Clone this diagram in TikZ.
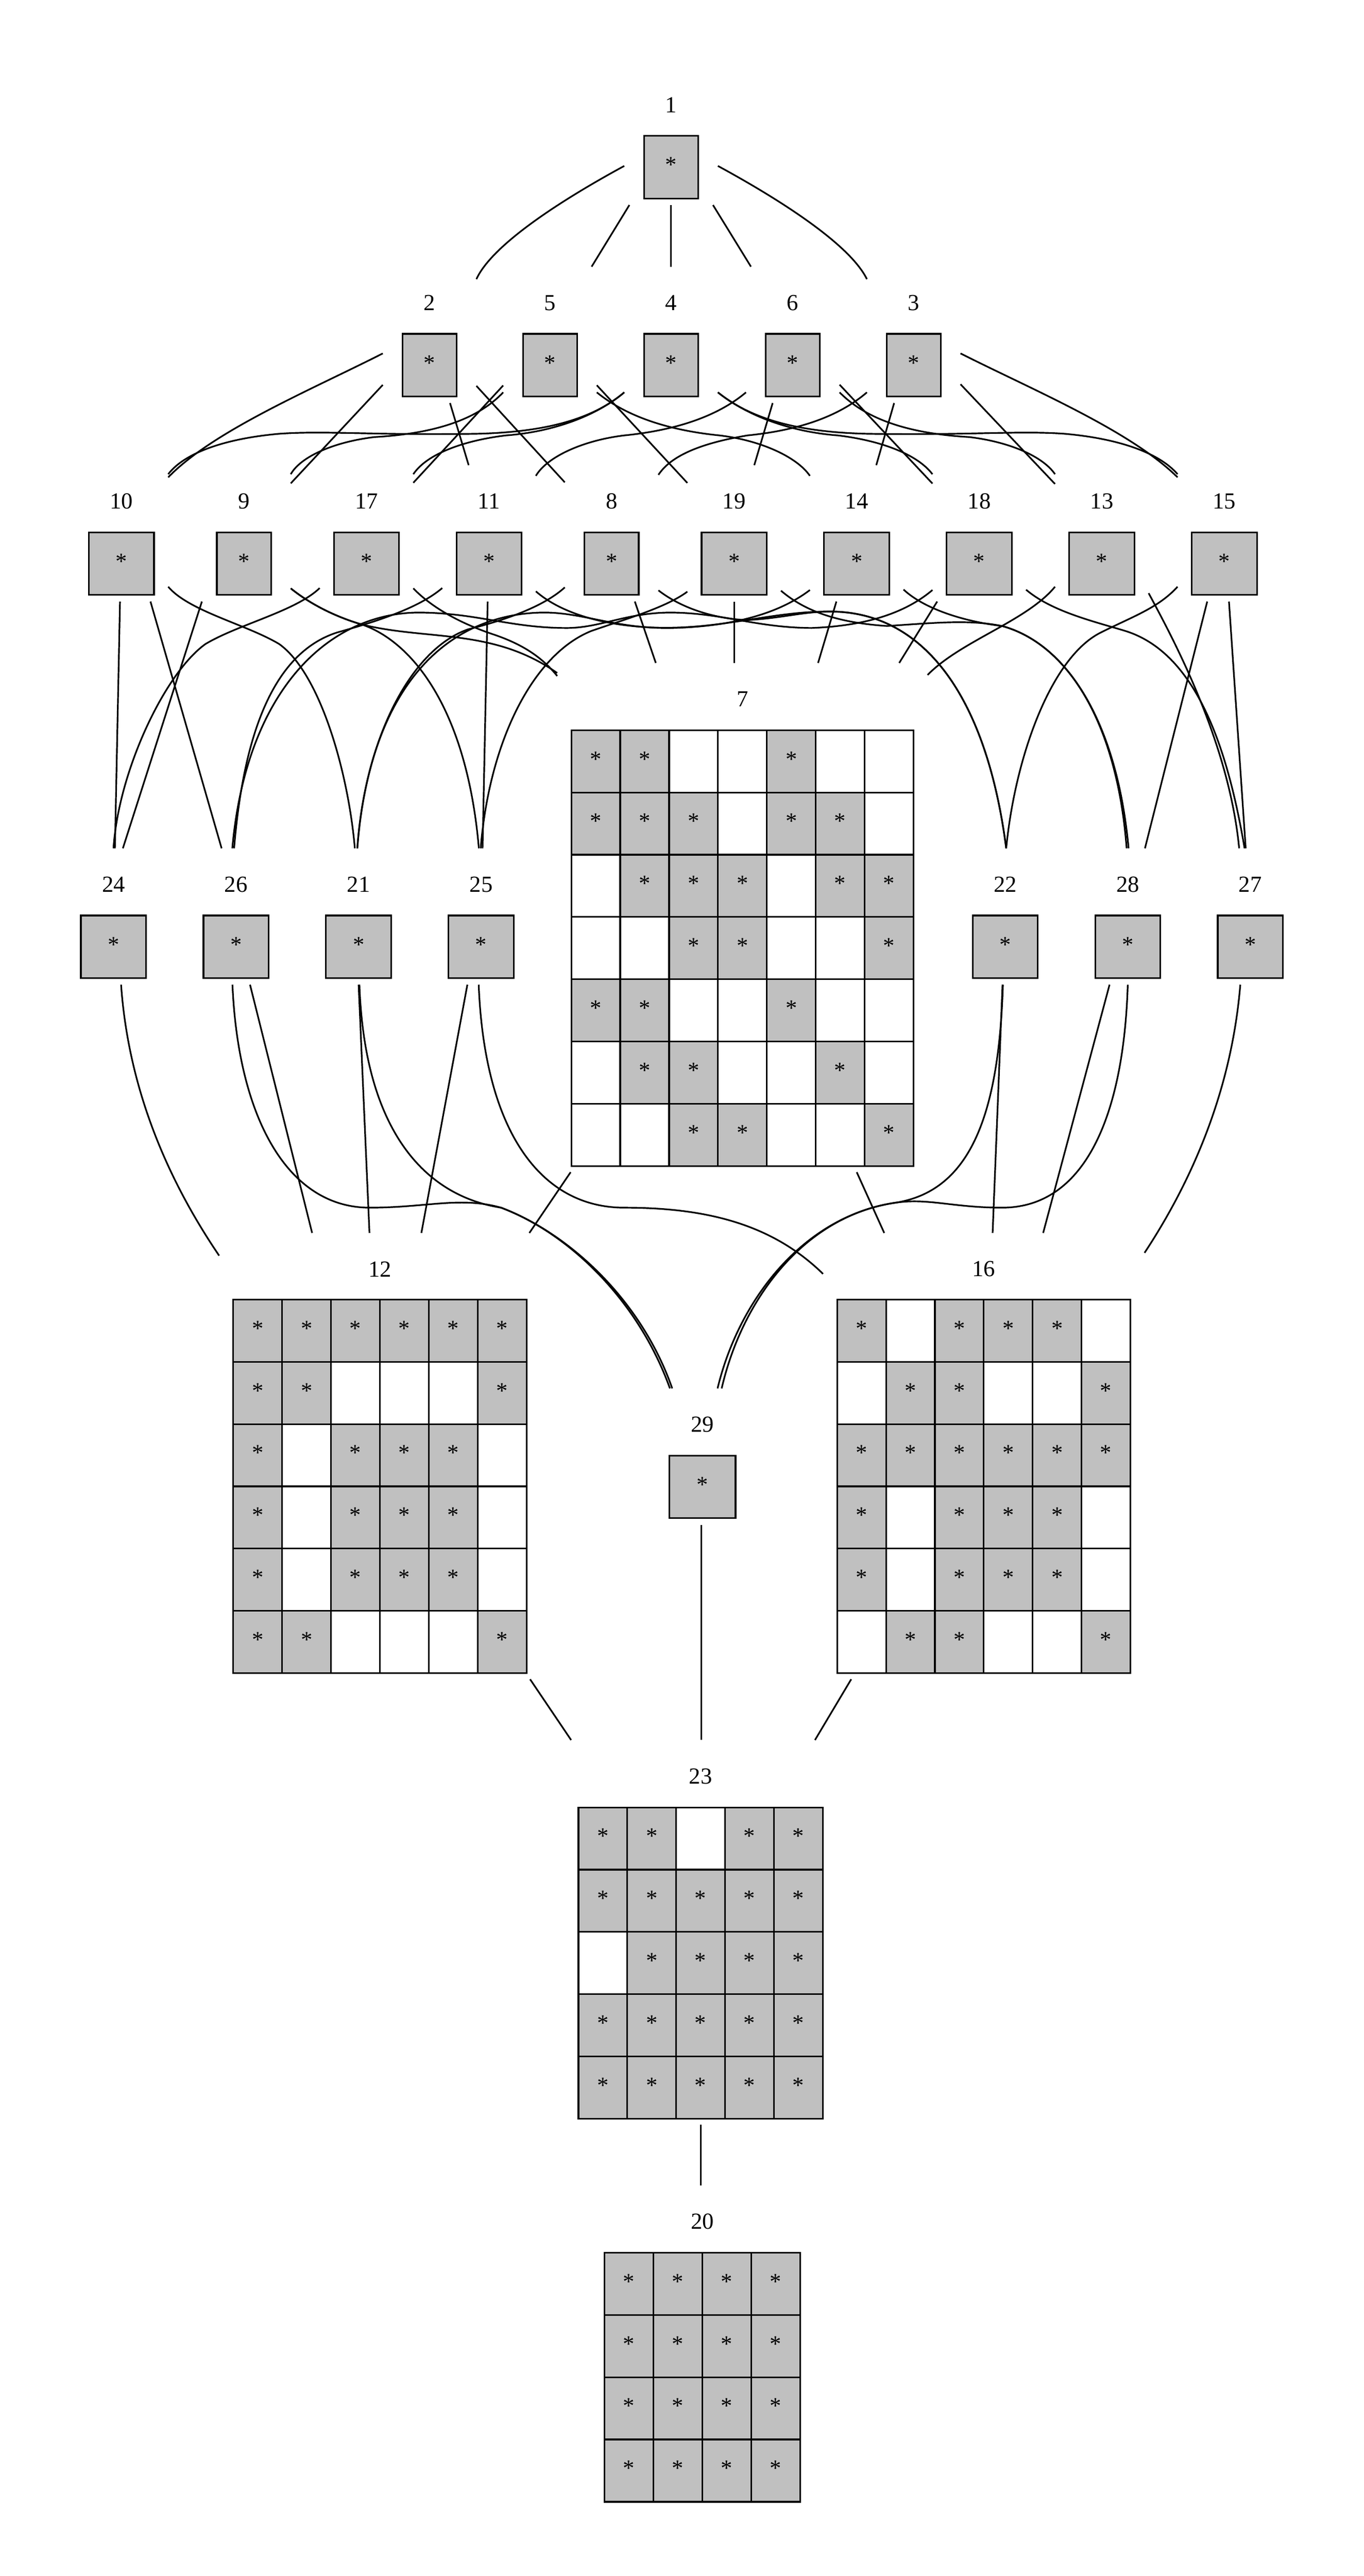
\documentclass[tikz,border=0pt]{standalone}
\usepackage{fontspec}
\setmainfont{Liberation Serif}
\definecolor{cellgray}{RGB}{192,192,192}
\tikzset{
  lbl/.style={inner sep=0pt, font=\fontsize{14pt}{16pt}\selectfont},
  sbox/.style={draw, line width=1pt, fill=cellgray, minimum height=38.1pt, inner sep=0pt,
    text height=9.5pt, text depth=3pt, font=\fontsize{14pt}{16pt}\selectfont},
  bb/.style={draw=none, inner sep=0pt, outer sep=0pt, minimum width=57pt, minimum height=83pt},
  cellon/.style={draw, line width=1pt, fill=cellgray, minimum width=29.75pt, minimum height=37.9pt,
    inner sep=0pt, text height=9.5pt, text depth=3pt, font=\fontsize{14pt}{16pt}\selectfont},
  celloff/.style={draw, line width=1pt, fill=white, minimum width=29.75pt, minimum height=37.9pt, inner sep=0pt},
  conn/.style={line width=1pt}
}
% single node: name, centre x, label y, box width
\newcommand{\gvnode}[4]{%
  \node[lbl] (l#1) at (#2,#3) {#1};
  \node[sbox, minimum width=#4pt] (s#1) at (#2,{#3+37.95}) {*};
  \node[bb] (b#1) at (#2,{#3+19.5}) {};
}
% matrix: name, left x, top y, rows
\newcommand{\gvmatrix}[4]{%
  \foreach \rowdata [count=\ri] in {#4} {
    \foreach \v [count=\ci] in \rowdata {
      \ifnum\v=1
        \node[cellon] (#1-\ri-\ci) at ({#2+(\ci-0.5)*29.75},{#3+(\ri-0.5)*37.9}) {*};
      \else
        \node[celloff] (#1-\ri-\ci) at ({#2+(\ci-0.5)*29.75},{#3+(\ri-0.5)*37.9}) {};
      \fi
    }
  }
}
\begin{document}
\begin{tikzpicture}[x=1pt,y=-1pt]
\fill[white] (0,0) rectangle (830,1567.8);
\useasboundingbox (0,0) rectangle (830,1567.8);

% ---------- nodes ----------
\gvnode{1}{408.5}{63.8}{33}
\gvnode{2}{261.5}{184.3}{33}
\gvnode{5}{334.8}{184.3}{33}
\gvnode{4}{408.5}{184.3}{33}
\gvnode{6}{482.6}{184.3}{33}
\gvnode{3}{556.2}{184.3}{33}

\gvnode{10}{73.9}{305.1}{39.7}
\gvnode{9}{148.5}{305.1}{33}
\gvnode{17}{223.1}{305.1}{39.7}
\gvnode{11}{297.7}{305.1}{39.7}
\gvnode{8}{372.3}{305.1}{33}
\gvnode{19}{446.9}{305.1}{39.7}
\gvnode{14}{521.5}{305.1}{39.7}
\gvnode{18}{596.1}{305.1}{39.7}
\gvnode{13}{670.7}{305.1}{39.7}
\gvnode{15}{745.3}{305.1}{39.7}

\gvnode{24}{69.1}{538.3}{39.7}
\gvnode{26}{143.7}{538.3}{39.7}
\gvnode{21}{218.3}{538.3}{39.7}
\gvnode{25}{292.9}{538.3}{39.7}
\gvnode{22}{611.9}{538.3}{39.7}
\gvnode{28}{686.5}{538.3}{39.7}
\gvnode{27}{761.1}{538.3}{39.7}

\gvnode{29}{427.6}{867}{40.3}

% matrix 7
\node[lbl] (l7) at (451.9,425.5) {7};
\gvmatrix{m7}{347.8}{444.4}{{1,1,0,0,1,0,0},{1,1,1,0,1,1,0},{0,1,1,1,0,1,1},{0,0,1,1,0,0,1},{1,1,0,0,1,0,0},{0,1,1,0,0,1,0},{0,0,1,1,0,0,1}}
\node[bb, minimum width=225.45pt, minimum height=309.9pt] (b7) at (451.9,558.45) {};

% matrix 12
\node[lbl] (l12) at (231.25,772.4) {12};
\gvmatrix{m12}{142}{790.9}{{1,1,1,1,1,1},{1,1,0,0,0,1},{1,0,1,1,1,0},{1,0,1,1,1,0},{1,0,1,1,1,0},{1,1,0,0,0,1}}
\node[bb, minimum width=195.7pt, minimum height=271.6pt] (b12) at (231.25,886.2) {};

% matrix 16
\node[lbl] (l16) at (598.85,772.4) {16};
\gvmatrix{m16}{509.6}{790.9}{{1,0,1,1,1,0},{0,1,1,0,0,1},{1,1,1,1,1,1},{1,0,1,1,1,0},{1,0,1,1,1,0},{0,1,1,0,0,1}}
\node[bb, minimum width=195.7pt, minimum height=271.6pt] (b16) at (598.85,886.2) {};

% matrix 23
\node[lbl] (l23) at (426.5,1081) {23};
\gvmatrix{m23}{352.1}{1100}{{1,1,0,1,1},{1,1,1,1,1},{0,1,1,1,1},{1,1,1,1,1},{1,1,1,1,1}}
\node[bb, minimum width=166pt, minimum height=234.2pt] (b23) at (426.5,1176.1) {};

% matrix 20
\node[lbl] (l20) at (427.5,1352) {20};
\gvmatrix{m20}{368}{1371}{{1,1,1,1},{1,1,1,1},{1,1,1,1},{1,1,1,1}}
\node[bb, minimum width=136.2pt, minimum height=196.3pt] (b20) at (427.5,1428.15) {};

% ---------- rank 1 -> 2 ----------
\draw[conn] ([yshift=-17.7pt]b1.west) .. controls (345,120) and (300,148) .. ([yshift=33.9pt]b2.east);
\draw[conn] (b1) -- (b5);
\draw[conn] (b1) -- (b4);
\draw[conn] (b1) -- (b6);
\draw[conn] ([yshift=-17.7pt]b1.east) .. controls (472,120) and (517,148) .. ([yshift=33.9pt]b3.west);

% ---------- rank 2 -> 3 ----------
\draw[conn] ([yshift=-11.3pt]b2.west) .. controls (190,237) and (130,262) .. ([yshift=34.1pt]b10.east);
\draw[conn] (b2) -- (b9);
\draw[conn] (b2) -- (b11);
\draw[conn] (b2) -- (b8);
\draw[conn] ([yshift=-35pt]b5.west) .. controls (290,256) and (263,264) .. (228,266) .. controls (203,269) and (183,278) .. ([yshift=36pt]b9.east);
\draw[conn] (b5) -- (b17);
\draw[conn] (b5) -- (b19);
\draw[conn] ([yshift=-35pt]b5.east) .. controls (382,254) and (408,262) .. (438,265) .. controls (463,268) and (485,278) .. ([yshift=35pt]b14.west);
\draw[conn] ([yshift=-35pt]b4.west) .. controls (362,254) and (335,263) .. (290,264) .. controls (228,265) and (198,262) .. (170,264) .. controls (136,267) and (112,276) .. ([yshift=36pt]b10.east);
\draw[conn] ([yshift=-35pt]b4.west) .. controls (362,254) and (335,263) .. (308,265) .. controls (283,268) and (260,276) .. ([yshift=36pt]b17.east);
\draw[conn] ([yshift=-35pt]b4.east) .. controls (456,254) and (483,263) .. (528,264) .. controls (590,265) and (620,262) .. (648,264) .. controls (682,267) and (706,276) .. ([yshift=36pt]b15.west);
\draw[conn] ([yshift=-35pt]b4.east) .. controls (456,254) and (483,263) .. (510,265) .. controls (535,268) and (558,276) .. ([yshift=36pt]b18.west);
\draw[conn] ([yshift=-35pt]b6.west) .. controls (436,254) and (410,262) .. (380,265) .. controls (355,268) and (333,278) .. ([yshift=35pt]b11.east);
\draw[conn] (b6) -- (b19);
\draw[conn] (b6) -- (b18);
\draw[conn] ([yshift=-35pt]b6.east) .. controls (528,256) and (555,264) .. (590,266) .. controls (615,269) and (635,278) .. ([yshift=36pt]b13.west);
\draw[conn] ([yshift=-35pt]b3.west) .. controls (510,254) and (485,262) .. (455,265) .. controls (425,270) and (408,278) .. ([yshift=35.6pt]b8.east);
\draw[conn] (b3) -- (b14);
\draw[conn] (b3) -- (b13);
\draw[conn] ([yshift=-11.3pt]b3.east) .. controls (628,237) and (688,262) .. ([yshift=34.1pt]b15.west);

% ---------- rank 3 -> 4 ----------
\draw[conn] (b10) -- (b24);
\draw[conn] ([xshift=17.7pt]b10.south) -- ([xshift=-8.8pt]b26.north);
\draw[conn] ([yshift=-32.5pt]b10.east) .. controls (115,372) and (150,380) .. (170,392) .. controls (195,410) and (212,470) .. ([xshift=-2.3pt]b21.north);
\draw[conn] ([xshift=-25.6pt]b9.south) -- ([xshift=5.7pt]b24.north);
\draw[conn] ([yshift=-33.5pt]b9.east) .. controls (188,367) and (203,375) .. (220,380) .. controls (250,390) and (284,430) .. ([xshift=-1.4pt]b25.north);
\draw[conn] ([yshift=-33.5pt]b9.east) .. controls (188,367) and (203,375) .. (220,380) .. controls (260,390) and (300,382) .. ([yshift=148.85pt]b7.west);
\draw[conn] ([yshift=-33.3pt]b17.west) .. controls (180,372) and (145,380) .. (125,392) .. controls (100,410) and (72,470) .. (b24.north);
\draw[conn] ([yshift=-33.5pt]b17.east) .. controls (265,372) and (285,381) .. (300,386) .. controls (318,392) and (330,400) .. ([yshift=147.05pt]b7.west);
\draw[conn] ([yshift=-33.3pt]b11.west) .. controls (255,370) and (230,378) .. (205,385) .. controls (165,398) and (148,450) .. ([xshift=-1.2pt]b26.north);
\draw[conn] (b11) -- (b25);
\draw[conn] ([yshift=-35.3pt]b11.east) .. controls (340,372) and (365,381) .. (400,382) .. controls (440,383) and (470,372) .. (505,372.2) .. controls (560,372) and (600,420) .. ([xshift=0.6pt]b22.north);
\draw[conn] ([yshift=-32.9pt]b8.west) .. controls (330,370) and (305,378) .. (285,383) .. controls (250,395) and (222,450) .. ([xshift=-0.8pt]b21.north);
\draw[conn] (b8) -- (b7);
\draw[conn] ([yshift=-34.7pt]b8.east) .. controls (412,368) and (430,376) .. (454,377.4) .. controls (475,376.5) and (488,372.3) .. (505,372.2) .. controls (560,372) and (600,420) .. ([xshift=0.6pt]b22.north);
\draw[conn] ([yshift=-35.5pt]b19.west) .. controls (405,370) and (380,377) .. (360,384) .. controls (325,398) and (298,450) .. ([xshift=-0.3pt]b25.north);
\draw[conn] (b19.south) -- (b19.south |- b7.north);
\draw[conn] ([yshift=-34.9pt]b19.east) .. controls (490,372) and (510,379) .. (540,381) .. controls (570,379) and (590,377) .. (610,381) .. controls (650,392) and (680,440) .. ([xshift=-0.7pt]b28.north);
\draw[conn] ([yshift=-34.5pt]b14.west) .. controls (476,372) and (450,381) .. (410,382.2) .. controls (375,383) and (355,372.5) .. (330,372.8) .. controls (270,374) and (225,420) .. ([xshift=-0.8pt]b21.north);
\draw[conn] (b14) -- (b7);
\draw[conn] ([yshift=-34.2pt]b14.east) .. controls (562,370) and (585,378) .. (610,381) .. controls (650,392) and (680,440) .. ([xshift=0.5pt]b28.north);
\draw[conn] ([yshift=-34.5pt]b18.west) .. controls (550,374) and (525,381) .. (494,382.2) .. controls (460,382) and (440,373) .. (408,372.8) .. controls (380,373) and (365,382.5) .. (343.8,382.2) .. controls (310,382) and (290,373) .. (255,372.8) .. controls (200,373) and (150,420) .. ([xshift=-2.3pt]b26.north);
\draw[conn] (b18) -- (b7);
\draw[conn] ([yshift=-34.3pt]b18.east) .. controls (640,372) and (665,378) .. (685,384) .. controls (730,398) and (748,460) .. ([xshift=-3.5pt]b27.north);
\draw[conn] ([yshift=-32.5pt]b13.west) .. controls (625,378) and (585,390) .. ([yshift=147.65pt]b7.east);
\draw[conn] ([yshift=-36.4pt]b13.east) .. controls (712,385) and (748,450) .. ([xshift=-6.8pt]b27.north);
\draw[conn] ([yshift=-32.5pt]b15.west) .. controls (705,370) and (690,375) .. (670,385) .. controls (640,400) and (618,460) .. ([xshift=0.6pt]b22.north);
\draw[conn] (b15) -- (b28);
\draw[conn] (b15) -- (b27);

% ---------- rank 4 -> 5 ----------
\draw[conn] ([xshift=4.6pt]b24.south) .. controls (78,660) and (100,715) .. ([yshift=122pt]b12.west);
\draw[conn] ([xshift=8.5pt]b26.south) -- ([xshift=-41.25pt]b12.north);
\draw[conn] ([xshift=-2.2pt]b26.south) .. controls (145,680) and (175,735) .. (225,735) .. controls (260,735) and (280,728) .. (305,735) .. controls (345,750) and (390,790) .. ([xshift=-18.4pt]b29.north);
\draw[conn] (b21.south) -- ([xshift=-6.35pt]b12.north);
\draw[conn] ([xshift=0.5pt]b21.south) .. controls (222,690) and (260,728) .. (305,735) .. controls (345,750) and (388,790) .. ([xshift=-19.8pt]b29.north);
\draw[conn] ([xshift=-8.4pt]b25.south) -- ([xshift=25.25pt]b12.north);
\draw[conn] ([xshift=-1.5pt]b25.south) .. controls (295,690) and (330,735) .. (380,735) .. controls (430,735) and (470,745) .. ([yshift=110.9pt]b16.west);
\draw[conn] (b7) -- (b12);
\draw[conn] (b7) -- (b16);
\draw[conn] ([xshift=-1.4pt]b22.south) .. controls (608,680) and (590,725) .. (545,732) .. controls (490,740) and (450,790) .. ([xshift=9.2pt]b29.north);
\draw[conn] (b22) -- (b16);
\draw[conn] (b28.south) .. controls (684,680) and (660,735) .. (610,735) .. controls (580,735) and (565,729) .. (545,732) .. controls (490,740) and (452,790) .. ([xshift=11.7pt]b29.north);
\draw[conn] (b28) -- (b16);
\draw[conn] ([xshift=-6.1pt]b27.south) .. controls (750,660) and (728,715) .. ([yshift=123.7pt]b16.east);

% ---------- rank 5 -> 6 -> 7 ----------
\draw[conn] (b12) -- (b23);
\draw[conn] ([xshift=-0.7pt]b29.south) -- ([xshift=-0.7pt]b29.south |- b23.north);
\draw[conn] (b16) -- (b23);
\draw[conn] (b23.south) -- (b23.south |- b20.north);
\end{tikzpicture}
\end{document}
